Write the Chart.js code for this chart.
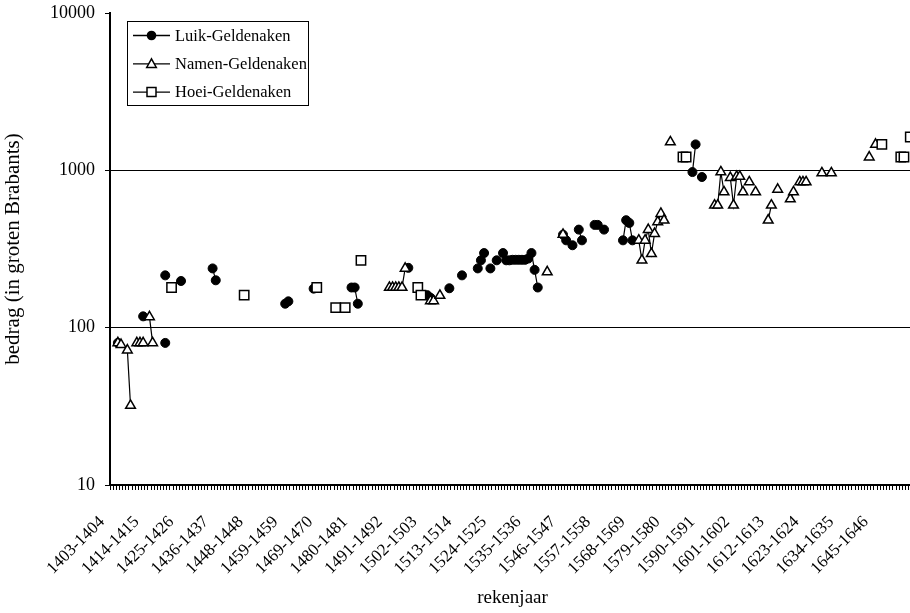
<!DOCTYPE html>
<html>
<head>
<meta charset="utf-8">
<title>Geldenaken</title>
<script src="https://cdn.jsdelivr.net/npm/chart.js"></script>
<style>
  html, body { margin: 0; padding: 0; background: #fff; overflow: hidden; }
  canvas { display: block; }
</style>
</head>
<body>
<canvas id="chart" width="925" height="613"></canvas>
<script>
// category labels shown under the axis (every 11th rekenjaar)
const tickLabels = [
  "1403-1404", "1414-1415", "1425-1426", "1436-1437", "1448-1448", "1459-1459",
  "1469-1470", "1480-1481", "1491-1492", "1502-1503", "1513-1514", "1524-1525",
  "1535-1536", "1546-1547", "1557-1558", "1568-1569", "1579-1580", "1590-1591",
  "1601-1602", "1612-1613", "1623-1624", "1634-1635", "1645-1646"
];
const catCount = 255;
const yTicks = [10, 100, 1000, 10000];

// [category index, bedrag]
const luik = [
  [2, 80], [10, 118], [17, 215], [17, 80], [22, 198], [32, 238], [33, 200],
  [55, 142], [56, 147], [64, 177], [76, 180], [77, 180], [78, 142], [94, 240],
  [100, 161], [101, 155], [107, 178], [111, 215], [116, 238], [117, 268], [118, 298],
  [120, 238], [122, 268], [124, 298], [125, 268], [126, 268], [127, 270], [128, 270],
  [129, 270], [130, 270], [131, 270], [132, 275], [133, 298], [134, 233], [135, 180],
  [143, 390], [144, 359], [146, 334], [148, 420], [149, 359], [153, 450], [154, 450],
  [156, 420], [162, 359], [163, 482], [164, 463], [165, 359], [184, 975], [185, 1462],
  [187, 907]
];
const namen = [
  [2, 80], [3, 78], [5, 72], [6, 32], [8, 80], [9, 80], [10, 80], [12, 117], [13, 80],
  [88, 180], [89, 180], [90, 180], [91, 180], [92, 180], [93, 238], [101, 148],
  [102, 148], [104, 160], [138, 226], [143, 391], [167, 359], [168, 268], [169, 359],
  [170, 420], [171, 295], [172, 396], [173, 470], [174, 531], [175, 482], [177, 1513],
  [191, 600], [192, 600], [193, 975], [194, 728], [196, 898], [197, 600], [198, 913],
  [199, 913], [200, 728], [202, 843], [204, 728], [208, 482], [209, 600], [211, 757],
  [215, 657], [216, 728], [218, 843], [219, 843], [220, 843], [225, 961], [228, 961],
  [240, 1212], [242, 1462]
];
const hoei = [
  [19, 180], [42, 161], [65, 180], [71, 134], [74, 134], [79, 268], [97, 180], [98, 161],
  [181, 1215], [182, 1215], [244, 1462], [250, 1215], [251, 1215], [253, 1628]
];

const FONT = "'Liberation Serif', 'Times New Roman', serif";

// line only joins neighbouring rekenjaren, otherwise break it
function toPoints(pairs) {
  const out = [];
  pairs.forEach(([c, v], i) => {
    if (i > 0 && c !== pairs[i - 1][0] + 1) {
      out.push({ x: (c + pairs[i - 1][0]) / 2, y: null });
    }
    out.push({ x: c, y: v });
  });
  return out;
}

function drawMarker(ctx, style, x, y) {
  ctx.beginPath();
  if (style === "circle") {
    ctx.arc(x, y, 4.8, 0, Math.PI * 2);
    ctx.fillStyle = "#000";
    ctx.fill();
  } else if (style === "triangle") {
    ctx.moveTo(x, y - 5);
    ctx.lineTo(x + 4.8, y + 3.6);
    ctx.lineTo(x - 4.8, y + 3.6);
    ctx.closePath();
    ctx.fillStyle = "#fff";
    ctx.fill();
    ctx.lineWidth = 1.5;
    ctx.stroke();
  } else {
    ctx.rect(x - 4.5, y - 4.5, 9, 9);
    ctx.fillStyle = "#fff";
    ctx.fill();
    ctx.lineWidth = 1.5;
    ctx.stroke();
  }
}

const boxLegend = {
  id: "boxLegend",
  afterDraw(chart) {
    const ctx = chart.ctx;
    const items = [
      ["Luik-Geldenaken", "circle"],
      ["Namen-Geldenaken", "triangle"],
      ["Hoei-Geldenaken", "rect"]
    ];
    ctx.save();
    ctx.fillStyle = "#fff";
    ctx.fillRect(127.5, 21.5, 181, 84);
    ctx.strokeStyle = "#000";
    ctx.lineWidth = 1;
    ctx.strokeRect(127.5, 21.5, 181, 84);
    items.forEach(([name, style], i) => {
      const y = 35.5 + i * 28.3;
      ctx.strokeStyle = "#000";
      ctx.lineWidth = 1.3;
      ctx.beginPath();
      ctx.moveTo(133, y);
      ctx.lineTo(170, y);
      ctx.stroke();
      drawMarker(ctx, style, 151.5, y);
      ctx.fillStyle = "#000";
      ctx.font = "16.5px " + FONT;
      ctx.textBaseline = "middle";
      ctx.textAlign = "left";
      ctx.fillText(name, 175, y + 1);
    });
    ctx.restore();
  }
};

const seriesStyle = {
  borderColor: "#000",
  borderWidth: 1.2,
  pointBorderColor: "#000",
  fill: false,
  tension: 0
};

new Chart(document.getElementById("chart"), {
  type: "line",
  data: {
    datasets: [
      {
        ...seriesStyle,
        label: "Luik-Geldenaken",
        data: toPoints(luik),
        order: 3,
        pointStyle: "circle",
        pointRadius: 4.5,
        pointBackgroundColor: "#000",
        pointBorderWidth: 1
      },
      {
        ...seriesStyle,
        label: "Namen-Geldenaken",
        data: toPoints(namen),
        order: 2,
        pointStyle: "triangle",
        pointRadius: 5.6,
        pointBackgroundColor: "#fff",
        pointBorderWidth: 1.5
      },
      {
        ...seriesStyle,
        label: "Hoei-Geldenaken",
        data: toPoints(hoei),
        order: 1,
        pointStyle: "rect",
        pointRadius: 6.6,
        pointBackgroundColor: "#fff",
        pointBorderWidth: 1.5
      }
    ]
  },
  options: {
    responsive: false,
    animation: false,
    layout: { padding: { top: 13, right: 10, bottom: 4, left: 0 } },
    plugins: {
      legend: { display: false },
      tooltip: { enabled: false }
    },
    scales: {
      x: {
        type: "linear",
        min: -0.5,
        max: catCount - 0.5,
        grid: { drawOnChartArea: false, drawTicks: true, tickLength: 5, color: "#000", lineWidth: 1 },
        border: { display: true, color: "#000", width: 2 },
        ticks: {
          stepSize: 1,
          autoSkip: false,
          minRotation: 45,
          maxRotation: 45,
          padding: 22,
          labelOffset: -8,
          color: "#000",
          font: { family: FONT, size: 17 },
          callback: (value) => {
            const c = Math.round(value + 0.5);
            return c % 11 === 0 && tickLabels[c / 11] ? tickLabels[c / 11] : "";
          }
        },
        title: {
          display: true,
          text: "rekenjaar",
          color: "#000",
          font: { family: FONT, size: 19 },
          padding: { top: 0, bottom: 0 }
        },
        afterFit(scale) {
          scale.height = 124;
          scale.paddingLeft = 0;
          scale.paddingRight = 0;
        }
      },
      y: {
        type: "logarithmic",
        min: 10,
        max: 10000,
        afterBuildTicks(scale) { scale.ticks = yTicks.map(v => ({ value: v })); },
        grid: {
          color: (ctx) => (ctx.tick && (ctx.tick.value === 100 || ctx.tick.value === 1000)) ? "#000" : "rgba(0,0,0,0)",
          tickColor: "#000",
          tickLength: 5,
          lineWidth: 1
        },
        border: { color: "#000", width: 2 },
        ticks: {
          padding: 10,
          color: "#000",
          font: { family: FONT, size: 18 },
          callback: (v) => String(v)
        },
        title: {
          display: true,
          text: "bedrag (in groten Brabants)",
          color: "#000",
          font: { family: FONT, size: 21 },
          padding: { top: 1, bottom: 0 }
        },
        afterFit(scale) {
          scale.width = 110;
          scale.paddingTop = 0;
          scale.paddingBottom = 0;
        }
      }
    }
  },
  plugins: [boxLegend]
});
</script>
</body>
</html>
